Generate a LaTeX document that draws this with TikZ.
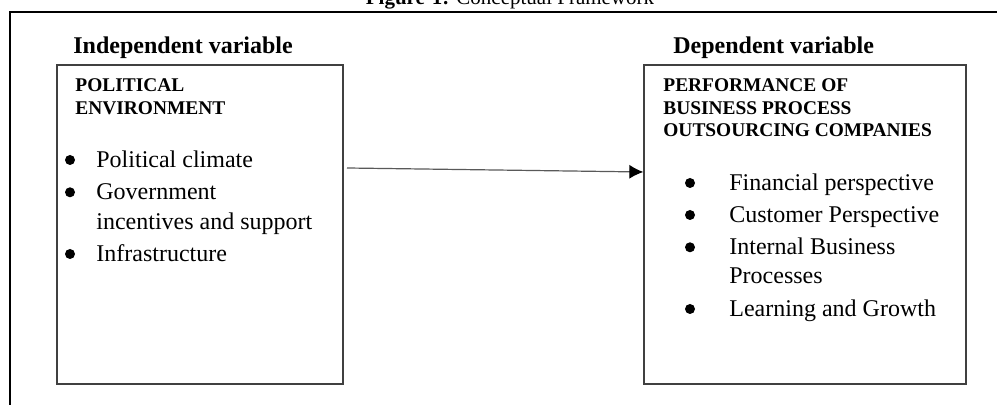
\documentclass[tikz,border=0pt]{standalone}
\usepackage{fontspec}
\setmainfont{Liberation Serif}
\usetikzlibrary{arrows.meta}

\begin{document}
\begin{tikzpicture}[x=0.5pt, y=0.5pt,
  frm/.style={draw=black, line width=1pt},
  bx/.style={rectangle, draw=black!75, line width=0.65pt, inner sep=0pt, minimum height=159.5pt},
  hd/.style={anchor=base west, inner sep=0pt, font=\fontsize{12}{14}\selectfont\bfseries},
  cp/.style={anchor=base west, inner sep=0pt, font=\fontsize{9.7}{11}\selectfont\bfseries},
  tx/.style={anchor=base west, inner sep=0pt, font=\fontsize{12}{14}\selectfont},
  bul/.style={circle, fill=black, inner sep=0pt, minimum size=5pt},
  lnk/.style={draw=black!65, line width=0.6pt, -{Latex[length=7pt, width=7pt, color=black]}}]
\clip (0,0) rectangle (997,405);
\useasboundingbox (0,0) rectangle (997,405);
\node[anchor=base, inner sep=0pt, font=\fontsize{10.5}{12}\selectfont] (ttl) at (510,400) {\textbf{Figure-1:} Conceptual Framework};
\draw[frm] (9.5,-5) -- (9.5,393) -- (1005,393);
% boxes
\node[bx, minimum width=143pt] (indep) at (200,180.5) {};
\node[bx, minimum width=161pt] (dep) at (805,180.5) {};
\node[hd] (hindep) at (73,351) {Independent variable};
\node[hd] (hdep) at (673,351) {Dependent variable};
% left box text
\node[cp] (l1) at (75,313) {POLITICAL};
\node[cp] (l2) at (75,290) {ENVIRONMENT};
\node[bul] (lb1) at (70,245) {};
\node[tx] (lt1) at (96,237.3) {Political climate};
\node[bul] (lb2) at (70,212.7) {};
\node[tx] (lt2) at (96,205) {Government};
\node[tx] (lt3) at (96,175) {incentives and support};
\node[bul] (lb3) at (70,151) {};
\node[tx] (lt4) at (96,143.3) {Infrastructure};
% right box text
\node[cp] (r1) at (663,313) {PERFORMANCE OF};
\node[cp] (r2) at (663,290) {BUSINESS PROCESS};
\node[cp] (r3) at (663,268) {OUTSOURCING COMPANIES};
\node[bul] (rb1) at (690,222) {};
\node[tx] (rt1) at (729,214.3) {Financial perspective};
\node[bul] (rb2) at (690,190) {};
\node[tx] (rt2) at (729,182.3) {Customer Perspective};
\node[bul] (rb3) at (690,157.7) {};
\node[tx] (rt3) at (729,150) {Internal Business};
\node[tx] (rt4) at (729,121) {Processes};
\node[bul] (rb4) at (690,96) {};
\node[tx] (rt5) at (729,88.3) {Learning and Growth};
% link
\coordinate (tail) at (347,237);
\draw[lnk] (tail) -- ([yshift=-2pt]tail -| dep.west);
\end{tikzpicture}
\end{document}
